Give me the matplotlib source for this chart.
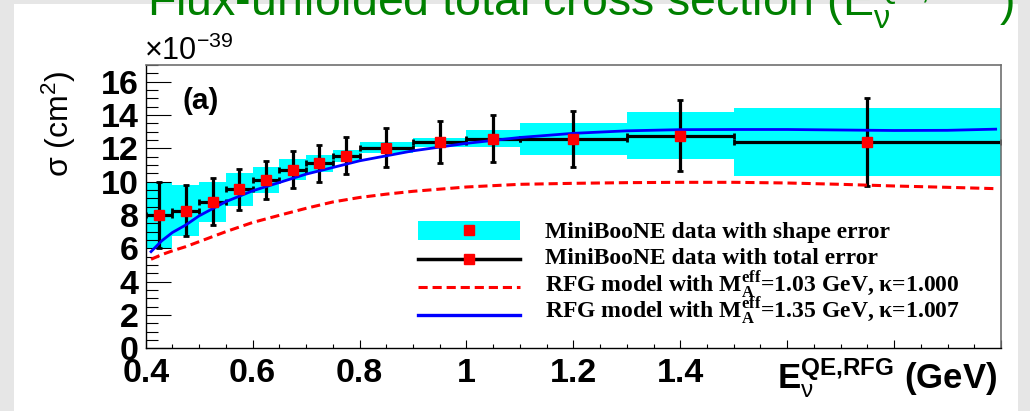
import matplotlib
matplotlib.use('Agg')
import matplotlib.pyplot as plt
from matplotlib.patches import Rectangle
from matplotlib.lines import Line2D
from matplotlib.ticker import MultipleLocator, FixedLocator, FixedFormatter
from matplotlib.transforms import Affine2D
import numpy as np

# ── MiniBooNE flux-unfolded CCQE cross section (units of 1e-39 cm^2) ─────────
bin_lo = [0.40, 0.45, 0.50, 0.55, 0.60, 0.65, 0.70, 0.75, 0.80, 0.90, 1.00, 1.10, 1.30, 1.50]
bin_hi = [0.45, 0.50, 0.55, 0.60, 0.65, 0.70, 0.75, 0.80, 0.90, 1.00, 1.10, 1.30, 1.50, 2.00]
sigma = [7.99, 8.26, 8.80, 9.53, 10.10, 10.72, 11.10, 11.55, 12.03, 12.36, 12.58, 12.56, 12.76, 12.36]
shape_err = [2.00, 1.55, 1.20, 0.98, 0.80, 0.62, 0.50, 0.36, 0.34, 0.27, 0.52, 0.95, 1.42, 2.03]
total_err = [2.00, 1.55, 1.40, 1.25, 1.14, 1.13, 1.11, 1.10, 1.18, 1.25, 1.40, 1.70, 2.14, 2.63]

# ── RFG model curves ──────────────────────────────────────────────────────────
e_model = [0.41, 0.43, 0.45, 0.475, 0.50, 0.55, 0.60, 0.65, 0.70, 0.75, 0.80, 0.85, 0.90,
           1.00, 1.10, 1.20, 1.30, 1.40, 1.50, 1.60, 1.70, 1.80, 1.90, 1.99]
rfg_ma103 = [5.34, 5.62, 5.85, 6.10, 6.40, 7.00, 7.55, 7.98, 8.40, 8.78, 9.05, 9.25, 9.42,
             9.68, 9.84, 9.90, 9.94, 9.96, 9.96, 9.92, 9.84, 9.74, 9.66, 9.58]
rfg_ma135 = [5.80, 6.45, 6.95, 7.40, 7.95, 8.80, 9.45, 9.95, 10.45, 10.85, 11.25, 11.55, 11.85,
             12.30, 12.65, 12.90, 13.05, 13.12, 13.13, 13.13, 13.10, 13.07, 13.08, 13.15]

x_ticks = [0.4, 0.6, 0.8, 1.0, 1.2, 1.4, 1.6, 1.8, 2.0]
x_ticklabels = ['0.4', '0.6', '0.8', '1', '1.2', '1.4', '', '', '']
y_ticks = [0, 2, 4, 6, 8, 10, 12, 14, 16]

legend_labels = [
    'MiniBooNE data with shape error',
    'MiniBooNE data with total error',
    r'RFG model with M$_{\mathsf{A}}^{\mathsf{eff}}$=1.03 GeV, κ=1.000',
    r'RFG model with M$_{\mathsf{A}}^{\mathsf{eff}}$=1.35 GeV, κ=1.007',
]

plt.rcParams['font.family'] = 'Liberation Sans'
plt.rcParams['mathtext.fontset'] = 'custom'
plt.rcParams['mathtext.rm'] = 'Liberation Sans'
plt.rcParams['mathtext.bf'] = 'Liberation Sans:bold'
plt.rcParams['mathtext.it'] = 'Liberation Sans:italic'
plt.rcParams['mathtext.sf'] = 'Liberation Serif:bold'

W, H = 1030, 411
fig = plt.figure(figsize=(W / 100, H / 100), dpi=100, facecolor='#e6e6e6')
# pixel coordinates measured from the top-left corner of the canvas
pix = Affine2D().scale(1 / W, -1 / H).translate(0, 1) + fig.transFigure

# white slide area
fig.add_artist(Rectangle((14, 4), 1004, 420, transform=pix,
                         facecolor='white', edgecolor='none', zorder=0))

fig.text(147, 16, r'Flux-unfolded total cross section (E$_{\mathrm{\nu}}^{\mathrm{QE{,}RFG}}$)',
         transform=pix, color='#008000', fontsize=33.5, va='baseline')

ax = fig.add_axes([145.7 / W, 1 - 348.3 / H, (1001 - 145.7) / W, (348.3 - 65) / H])

lo = np.array(bin_lo)
hi = np.array(bin_hi)
centre = (lo + hi) / 2
sig = np.array(sigma)
shape = np.array(shape_err)

ax.bar(lo, 2 * shape, width=hi - lo, bottom=sig - shape, align='edge',
       color='#00ffff', linewidth=0, zorder=1)
ax.errorbar(centre, sig, xerr=(hi - lo) / 2, yerr=total_err, fmt='none',
            ecolor='black', elinewidth=2.3, capsize=2.4, capthick=2.0, zorder=2)
ax.plot(e_model, rfg_ma103, color='#ff0000', lw=2.2, ls=(0, (3.0, 1.6)), zorder=3)
ax.plot(e_model, rfg_ma135, color='#0000ff', lw=2.0, zorder=3)
ax.plot(centre, sig, 's', color='#ff0000', mec='#ff0000', ms=6.5, zorder=4)

ax.set_xlim(0.4, 2.0)
ax.set_ylim(0, 17)
ax.xaxis.set_major_locator(FixedLocator(x_ticks))
ax.xaxis.set_major_formatter(FixedFormatter(x_ticklabels))
ax.xaxis.set_minor_locator(MultipleLocator(0.05))
ax.yaxis.set_major_locator(FixedLocator(y_ticks))
ax.yaxis.set_minor_locator(MultipleLocator(0.5))

ax.tick_params(which='both', direction='in', top=False, right=False, color='black', width=0.8)
ax.tick_params(axis='x', which='major', length=5.8, pad=7)
ax.tick_params(axis='x', which='minor', length=2.9)
ax.tick_params(axis='y', which='major', length=18, pad=5)
ax.tick_params(axis='y', which='minor', length=8.6)
for lab in ax.get_xticklabels() + ax.get_yticklabels():
    lab.set_fontsize(24.5)
    lab.set_fontweight('bold')

for side in ('left', 'bottom'):
    ax.spines[side].set_color('black')
    ax.spines[side].set_linewidth(1.0)
for side in ('top', 'right'):
    ax.spines[side].set_color('#707070')
    ax.spines[side].set_linewidth(1.2)

ax.text(0.502, 14.84, '(a)', fontsize=21.5, fontweight='bold', ha='center', va='center')

fig.text(144, 60, r'×10$^{\mathrm{-39}}$', transform=pix, fontsize=22, va='baseline')
fig.text(59, 123.5, r'σ (cm$^{\mathrm{2}}$)', transform=pix, fontsize=23,
         rotation=90, ha='center', va='center')
fig.text(997, 388, r'E$_{\mathrm{\nu}}^{\mathbf{QE{,}RFG}}$ (GeV)', transform=pix,
         fontsize=25, fontweight='bold', ha='right', va='baseline')

# ── Legend ────────────────────────────────────────────────────────────────────
key_x0, key_x1, key_mid, text_x = 418, 520, 469, 545
fig.add_artist(Rectangle((key_x0, 221), key_x1 - key_x0, 19, transform=pix,
                         facecolor='#00ffff', edgecolor='none'))
fig.add_artist(Line2D([key_mid], [230], transform=pix, marker='s', ms=6.5,
                      color='#ff0000', ls='none'))
fig.add_artist(Line2D([key_x0, key_x1], [259, 259], transform=pix, color='black', lw=2.5))
fig.add_artist(Line2D([key_mid], [259], transform=pix, marker='s', ms=6.5,
                      color='#ff0000', ls='none'))
fig.add_artist(Line2D([key_x0, key_x1], [287, 287], transform=pix, color='#ff0000',
                      lw=2.2, ls=(0, (3.0, 1.6))))
fig.add_artist(Line2D([key_x0, key_x1], [315, 315], transform=pix, color='#0000ff', lw=2.4))

for label, base in zip(legend_labels, [238, 263.5, 291.5, 318]):
    fig.text(text_x, base, label, transform=pix, fontfamily='Liberation Serif',
             fontweight='bold', fontsize=17, va='baseline')

plt.savefig('out.png', dpi=100, facecolor=fig.get_facecolor())
plt.close(fig)
